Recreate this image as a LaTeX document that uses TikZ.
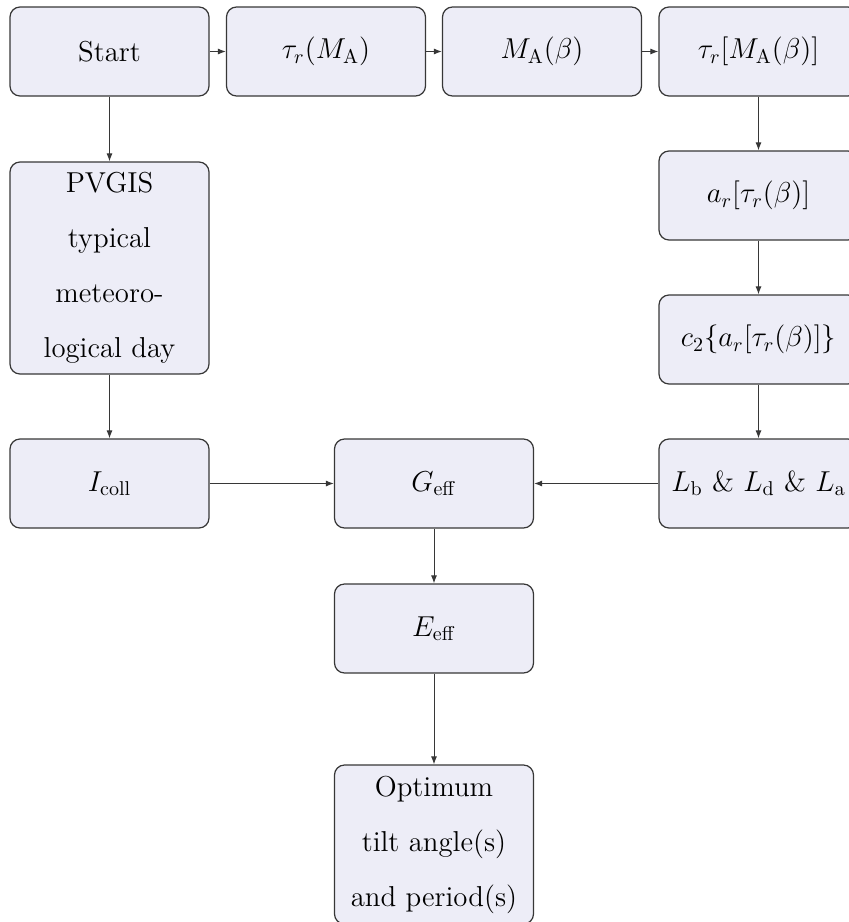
\documentclass[tikz,border=0pt]{standalone}
\usetikzlibrary{arrows.meta}
\definecolor{boxfill}{RGB}{237,237,247}
\definecolor{boxline}{RGB}{55,55,55}
\begin{document}
\begin{tikzpicture}[x=0.5pt, y=-0.5pt]

\tikzstyle{box1}=[rectangle, rounded corners=5pt, draw=boxline, line width=0.6pt, fill=boxfill, minimum width=99.5pt, minimum height=44.5pt, align=center, inner sep=2pt, font=\fontsize{14.4}{27.5}\selectfont]
\tikzstyle{arrow}=[-{Latex[length=4pt,width=3pt]}, draw=boxline, line width=0.5pt]

\useasboundingbox (0,0) rectangle (849,922);
\clip (0,0) rectangle (849,922);

% top row
\node (A) [box1] at (109.5,51.5) {Start};
\node (B) [box1] at (326,51.5)   {$\tau_r(M_\mathrm{A})$};
\node (C) [box1] at (542,51.5)   {$M_\mathrm{A}(\beta)$};
\node (D) [box1] at (758.5,51.5) {$\tau_r[M_\mathrm{A}(\beta)]$};

% right column
\node (E) [box1] at (758.5,195.5) {$a_r[\tau_r(\beta)]$};
\node (F) [box1] at (758.5,339.5) {$c_2\{a_r[\tau_r(\beta)]\}$};
\node (G) [box1] at (758.5,483.5) {$L_\mathrm{b}$ \& $L_\mathrm{d}$ \& $L_\mathrm{a}$};

% left column
\node (H) [box1, minimum height=106pt] at (109.5,268) {PVGIS\\typical\\meteoro-\\logical day};
\node (I) [box1] at (109.5,483.5) {$I_\mathrm{coll}$};

% middle column
\node (J) [box1] at (434,483.5) {$G_\mathrm{eff}$};
\node (K) [box1] at (434,628.5) {$E_\mathrm{eff}$};
\node (L) [box1, minimum height=79.5pt] at (434,844.5) {Optimum\\tilt angle(s)\\and period(s)};

\draw [arrow] (A) -- (B);
\draw [arrow] (B) -- (C);
\draw [arrow] (C) -- (D);
\draw [arrow] (D) -- (E);
\draw [arrow] (E) -- (F);
\draw [arrow] (F) -- (G);
\draw [arrow] (A) -- (H);
\draw [arrow] (H) -- (I);
\draw [arrow] (I) -- (J);
\draw [arrow] (G) -- (J);
\draw [arrow] (J) -- (K);
\draw [arrow] (K) -- (L);

\end{tikzpicture}
\end{document}
